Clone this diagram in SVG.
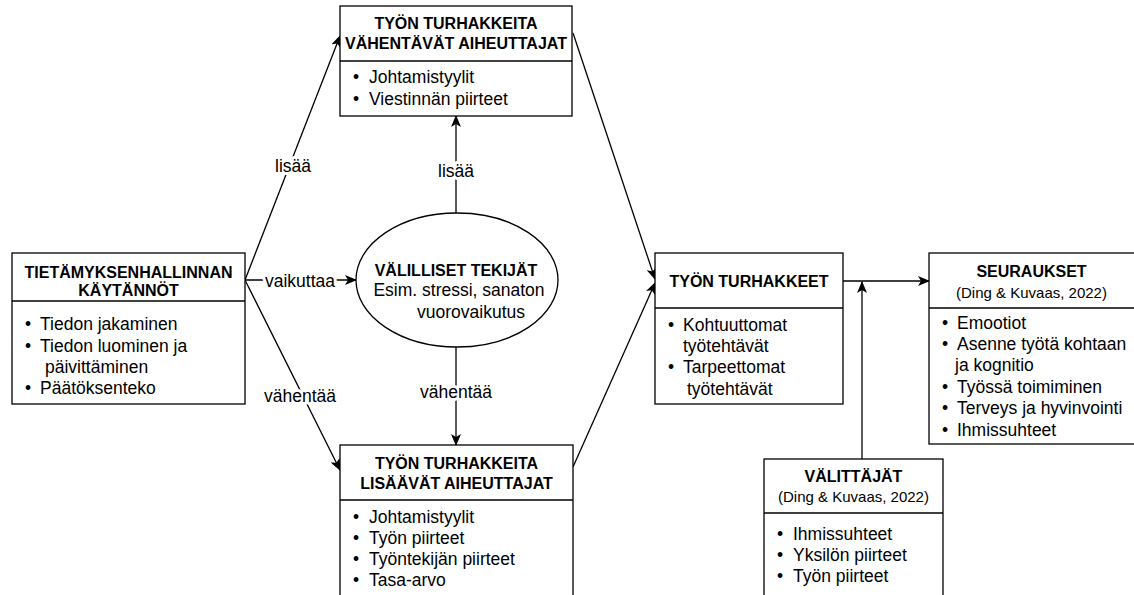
<svg xmlns="http://www.w3.org/2000/svg" width="1134" height="595" viewBox="0 0 1134 595">
<style>
.box{fill:#fff;stroke:#000;stroke-width:1.3}
.div{stroke:#000;stroke-width:1.3}
.t{font-family:"Liberation Sans",Arial,sans-serif;font-size:16px;font-weight:bold;fill:#000;text-anchor:middle}
.c{font-family:"Liberation Sans",Arial,sans-serif;font-size:15px;fill:#000;text-anchor:middle}
.b{font-family:"Liberation Sans",Arial,sans-serif;font-size:17.5px;fill:#000}
.m{font-family:"Liberation Sans",Arial,sans-serif;font-size:17.5px;fill:#000;text-anchor:middle}
.lbl{font-family:"Liberation Sans",Arial,sans-serif;font-size:17.5px;fill:#000;text-anchor:middle;stroke:#fff;stroke-width:6;paint-order:stroke;stroke-linejoin:round}
.e{fill:none;stroke:#000;stroke-width:1.3}
</style>
<defs>
<marker id="arr" viewBox="0 0 12 10" refX="11" refY="5" markerWidth="12" markerHeight="10" markerUnits="userSpaceOnUse" orient="auto">
<path d="M0,0 L12,5 L0,10 L3,5 Z" fill="#000"/>
</marker>
</defs>
<rect width="1134" height="595" fill="#fff"/>
<g id="connectors">
<line class="e" x1="245" y1="280" x2="340" y2="36" marker-end="url(#arr)"/>
<line class="e" x1="245" y1="280" x2="356" y2="280" marker-end="url(#arr)"/>
<line class="e" x1="245" y1="280" x2="340" y2="470" marker-end="url(#arr)"/>
<line class="e" x1="456" y1="213" x2="456" y2="116" marker-end="url(#arr)"/>
<line class="e" x1="456" y1="347" x2="456" y2="445" marker-end="url(#arr)"/>
<line class="e" x1="573" y1="33" x2="655" y2="279" marker-end="url(#arr)"/>
<line class="e" x1="573" y1="467" x2="655" y2="283" marker-end="url(#arr)"/>
<line class="e" x1="843" y1="281" x2="929" y2="281" marker-end="url(#arr)"/>
<line class="e" x1="862" y1="459" x2="862" y2="282" marker-end="url(#arr)"/>
<text class="lbl" x="293" y="172">lisää</text>
<text class="lbl" x="300" y="287">vaikuttaa</text>
<text class="lbl" x="300" y="402">vähentää</text>
<text class="lbl" x="456" y="177">lisää</text>
<text class="lbl" x="456" y="398">vähentää</text>
</g>
<g id="km">
<rect class="box" x="12" y="253" width="233" height="151"/>
<line class="div" x1="12" y1="301" x2="245" y2="301"/>
<text class="t" x="128.5" y="277.5">TIETÄMYKSENHALLINNAN</text>
<text class="t" x="128.5" y="296">KÄYTÄNNÖT</text>
<text class="b" x="25" y="330">•</text><text class="b" x="40" y="330">Tiedon jakaminen</text>
<text class="b" x="25" y="352">•</text><text class="b" x="40" y="352">Tiedon luominen ja</text>
<text class="b" x="45" y="373">päivittäminen</text>
<text class="b" x="25" y="394">•</text><text class="b" x="40" y="394">Päätöksenteko</text>
</g>
<g id="vahentavat">
<rect class="box" x="340" y="6" width="232" height="110"/>
<line class="div" x1="340" y1="61" x2="572" y2="61"/>
<text class="t" x="456" y="29">TYÖN TURHAKKEITA</text>
<text class="t" x="456" y="49">VÄHENTÄVÄT AIHEUTTAJAT</text>
<text class="b" x="353" y="83">•</text><text class="b" x="369" y="83">Johtamistyylit</text>
<text class="b" x="353" y="105">•</text><text class="b" x="369" y="105">Viestinnän piirteet</text>
</g>
<g id="valilliset">
<ellipse class="box" cx="457" cy="280" rx="101" ry="67"/>
<text class="t" x="456" y="276">VÄLILLISET TEKIJÄT</text>
<text class="m" x="459" y="296">Esim. stressi, sanaton</text>
<text class="m" x="471" y="318">vuorovaikutus</text>
</g>
<g id="lisaavat">
<rect class="box" x="340" y="445" width="233" height="160"/>
<line class="div" x1="340" y1="500" x2="573" y2="500"/>
<text class="t" x="456.5" y="469">TYÖN TURHAKKEITA</text>
<text class="t" x="456.5" y="489">LISÄÄVÄT AIHEUTTAJAT</text>
<text class="b" x="353" y="523">•</text><text class="b" x="369" y="523">Johtamistyylit</text>
<text class="b" x="353" y="544">•</text><text class="b" x="369" y="544">Työn piirteet</text>
<text class="b" x="353" y="565">•</text><text class="b" x="369" y="565">Työntekijän piirteet</text>
<text class="b" x="353" y="586">•</text><text class="b" x="369" y="586">Tasa-arvo</text>
</g>
<g id="turhakkeet">
<rect class="box" x="655" y="253" width="188" height="151"/>
<line class="div" x1="655" y1="308" x2="843" y2="308"/>
<text class="t" x="749" y="287">TYÖN TURHAKKEET</text>
<text class="b" x="668" y="331">•</text><text class="b" x="683" y="331">Kohtuuttomat</text>
<text class="b" x="683" y="352">työtehtävät</text>
<text class="b" x="668" y="373">•</text><text class="b" x="683" y="373">Tarpeettomat</text>
<text class="b" x="687" y="395">työtehtävät</text>
</g>
<g id="seuraukset">
<rect class="box" x="929" y="253" width="210" height="191"/>
<line class="div" x1="929" y1="308" x2="1139" y2="308"/>
<text class="t" x="1031.5" y="277">SEURAUKSET</text>
<text class="c" x="1031.5" y="298">(Ding &amp; Kuvaas, 2022)</text>
<text class="b" x="942" y="329">•</text><text class="b" x="957" y="329">Emootiot</text>
<text class="b" x="942" y="350">•</text><text class="b" x="957" y="350">Asenne työtä kohtaan</text>
<text class="b" x="955" y="371">ja kognitio</text>
<text class="b" x="942" y="393">•</text><text class="b" x="957" y="393">Työssä toimiminen</text>
<text class="b" x="942" y="414">•</text><text class="b" x="957" y="414">Terveys ja hyvinvointi</text>
<text class="b" x="942" y="436">•</text><text class="b" x="957" y="436">Ihmissuhteet</text>
</g>
<g id="valittajat">
<rect class="box" x="764" y="459" width="179" height="146"/>
<line class="div" x1="764" y1="513" x2="943" y2="513"/>
<text class="t" x="853.5" y="482">VÄLITTÄJÄT</text>
<text class="c" x="853.5" y="502">(Ding &amp; Kuvaas, 2022)</text>
<text class="b" x="777" y="540">•</text><text class="b" x="793" y="540">Ihmissuhteet</text>
<text class="b" x="777" y="561">•</text><text class="b" x="793" y="561">Yksilön piirteet</text>
<text class="b" x="777" y="582">•</text><text class="b" x="793" y="582">Työn piirteet</text>
</g>
</svg>
